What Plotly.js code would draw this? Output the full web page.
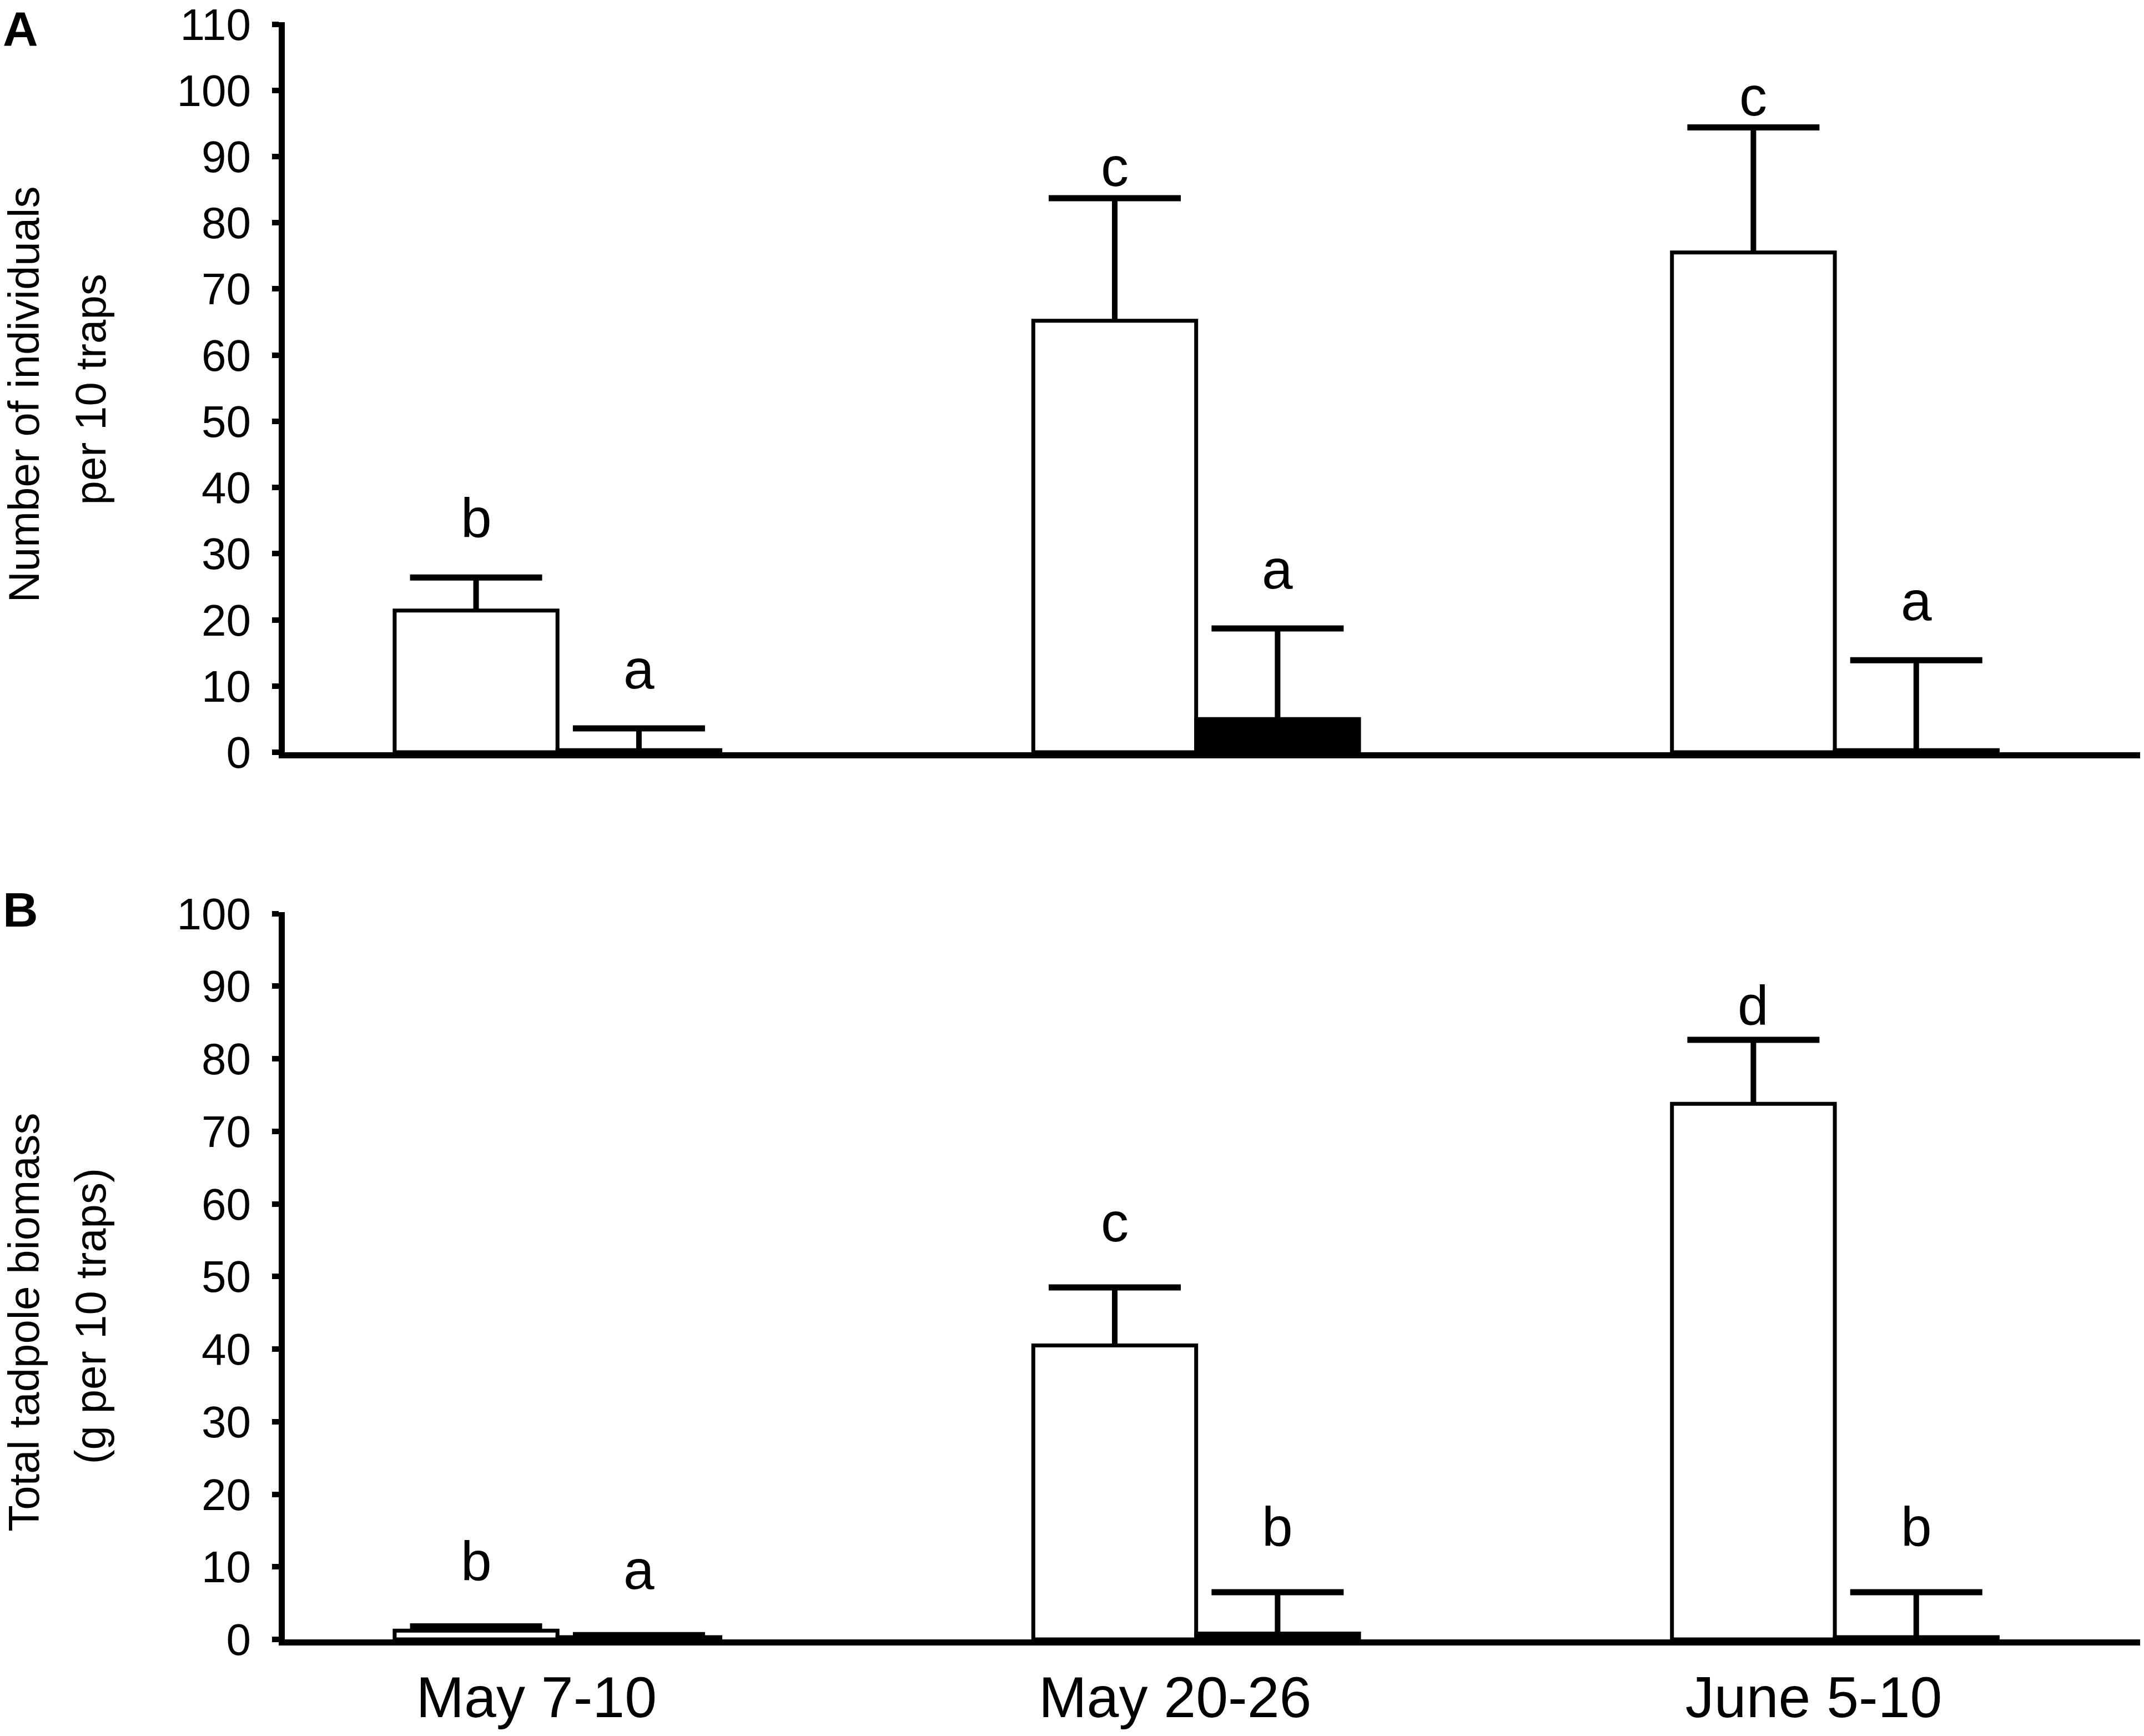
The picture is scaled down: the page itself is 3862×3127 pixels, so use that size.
<!DOCTYPE html>
<html>
<head>
<meta charset="utf-8">
<script src="https://cdn.plot.ly/plotly-3.0.1.min.js"></script>
<style>
  html, body { margin: 0; padding: 0; background: #ffffff; }
  #plot { width: 3862px; height: 3127px; }
</style>
</head>
<body>
<div id="plot"></div>
<script>

// Sampling periods
const periods = ["May 7-10", "May 20-26", "June 5-10"];

// Panel A: number of individuals per 10 traps
const countOpen = [21.4, 65.2, 75.5];
const countOpenErr = [5.0, 18.5, 18.9];
const countOpenLetters = ["b", "c", "c"];
const countFilled = [0.3, 5.0, 0.3];
const countFilledErr = [3.3, 13.7, 13.6];
const countFilledLetters = ["a", "a", "a"];

// Panel B: total tadpole biomass (g per 10 traps)
const massOpen = [1.2, 40.5, 73.8];
const massOpenErr = [0.6, 8.0, 8.8];
const massOpenLetters = ["b", "c", "d"];
const massFilled = [0.3, 0.8, 0.3];
const massFilledErr = [0.3, 5.7, 6.2];
const massFilledLetters = ["a", "b", "b"];

// Axis ticks
const countTicks = [0, 10, 20, 30, 40, 50, 60, 70, 80, 90, 100, 110];
const massTicks = [0, 10, 20, 30, 40, 50, 60, 70, 80, 90, 100];

const font = "Liberation Sans, Arial, sans-serif";
const bargap = 0.49;
const barOffset = (1 - bargap) / 4;
const periodPos = periods.map((p, i) => i);

// Bar trace with an upward error stem (caps drawn separately, no foot at the bar top)
function barTrace(y, err, fill, xaxis, yaxis) {
  return {
    type: "bar",
    x: periodPos,
    y: y,
    xaxis: xaxis,
    yaxis: yaxis,
    marker: {
      color: fill,
      line: { color: "#000000", width: 7 }
    },
    error_y: {
      type: "data",
      symmetric: false,
      array: err,
      arrayminus: err.map(() => 0),
      color: "#000000",
      thickness: 10,
      width: 0
    },
    showlegend: false,
    hoverinfo: "none"
  };
}

// Error bar caps as horizontal line markers at the top of each stem
function capTrace(y, err, side, xaxis, yaxis) {
  return {
    type: "scatter",
    mode: "markers",
    x: periodPos.map(i => i + side * barOffset),
    y: y.map((v, i) => v + err[i]),
    xaxis: xaxis,
    yaxis: yaxis,
    marker: {
      symbol: "line-ew",
      size: 170,
      color: "#000000",
      line: { color: "#000000", width: 11 }
    },
    cliponaxis: false,
    showlegend: false,
    hoverinfo: "none"
  };
}

let data = [
  barTrace(countOpen, countOpenErr, "#ffffff", "x", "y"),
  barTrace(countFilled, countFilledErr, "#000000", "x", "y"),
  barTrace(massOpen, massOpenErr, "#ffffff", "x2", "y2"),
  barTrace(massFilled, massFilledErr, "#000000", "x2", "y2"),
  capTrace(countOpen, countOpenErr, -1, "x", "y"),
  capTrace(countFilled, countFilledErr, 1, "x", "y"),
  capTrace(massOpen, massOpenErr, -1, "x2", "y2"),
  capTrace(massFilled, massFilledErr, 1, "x2", "y2")
];

// Letters of significance above the error bars
function letterAnnotations(vals, errs, letters, side, xref, yref, ymax) {
  return letters.map((txt, i) => {
    let top = vals[i] + errs[i];
    let gap = top > 0.75 * ymax ? 4.75 : 9;
    return {
      x: i + side * barOffset,
      y: top + gap,
      xref: xref,
      yref: yref,
      text: txt,
      showarrow: false,
      xanchor: "center",
      yanchor: "middle",
      font: { family: font, size: 100, color: "#000000" }
    };
  });
}

let annotations = [].concat(
  letterAnnotations(countOpen, countOpenErr, countOpenLetters, -1, "x", "y", 110),
  letterAnnotations(countFilled, countFilledErr, countFilledLetters, 1, "x", "y", 110),
  letterAnnotations(massOpen, massOpenErr, massOpenLetters, -1, "x2", "y2", 100),
  letterAnnotations(massFilled, massFilledErr, massFilledLetters, 1, "x2", "y2", 100)
);

// Y axis titles, two lines each, and panel letters
function titleLine(txt, xshift, yref, ypos) {
  return {
    x: 0, xref: "paper", xshift: xshift,
    y: ypos, yref: yref,
    text: txt,
    textangle: -90,
    showarrow: false,
    xanchor: "center",
    yanchor: "middle",
    font: { family: font, size: 78, color: "#000000" }
  };
}
annotations.push(titleLine("Number of individuals", -470, "y domain", 0.49));
annotations.push(titleLine("per 10 traps", -350, "y domain", 0.497));
annotations.push(titleLine("Total tadpole biomass", -470, "y2 domain", 0.436));
annotations.push(titleLine("(g per 10 traps)", -350, "y2 domain", 0.444));

function panelLetter(txt, yref, yshift) {
  return {
    x: 0, xref: "paper", xshift: -510,
    y: 1, yref: yref, yshift: yshift,
    text: "<b>" + txt + "</b>",
    showarrow: false,
    xanchor: "left",
    yanchor: "top",
    font: { family: font, size: 88, color: "#000000" }
  };
}
annotations.push(panelLetter("A", "paper", 40));
annotations.push(panelLetter("B", "y2 domain", 56));

// Shared axis styling
let xrange = [-0.427, 2.478];
function xAxis(domainAnchor, showLabels) {
  return {
    type: "linear",
    anchor: domainAnchor,
    range: xrange,
    tickmode: "array",
    tickvals: periodPos,
    ticktext: periods,
    showgrid: false,
    zeroline: false,
    showline: true,
    linecolor: "#000000",
    linewidth: 11,
    ticks: "",
    showticklabels: showLabels,
    ticklabelshift: -38,
    ticklabelstandoff: 4,
    tickfont: { family: font, size: 104, color: "#000000" },
    fixedrange: true
  };
}
function yAxis(domain, anchor, ticks, top) {
  return {
    domain: domain,
    anchor: anchor,
    range: [0, top],
    tickmode: "array",
    tickvals: ticks,
    ticktext: ticks.map(String),
    showgrid: false,
    zeroline: false,
    showline: true,
    linecolor: "#000000",
    linewidth: 11,
    ticks: "outside",
    ticklen: 12,
    tickwidth: 10,
    tickcolor: "#000000",
    ticklabelstandoff: 22,
    ticklabeloverflow: "allow",
    tickfont: { family: font, size: 80, color: "#000000" },
    fixedrange: true
  };
}

let layout = {
  width: 3862,
  height: 3127,
  margin: { l: 513, r: 7, t: 40, b: 174 },
  paper_bgcolor: "#ffffff",
  plot_bgcolor: "#ffffff",
  barmode: "group",
  bargap: bargap,
  bargroupgap: 0,
  xaxis: xAxis("y", false),
  yaxis: yAxis([0.5486, 1], "x", countTicks, 110.3),
  xaxis2: xAxis("y2", true),
  yaxis2: yAxis([0, 0.4497], "x2", massTicks, 100.2),
  annotations: annotations,
  hovermode: false,
  showlegend: false
};

Plotly.newPlot("plot", data, layout, { displayModeBar: false, staticPlot: true });

</script>
</body>
</html>
